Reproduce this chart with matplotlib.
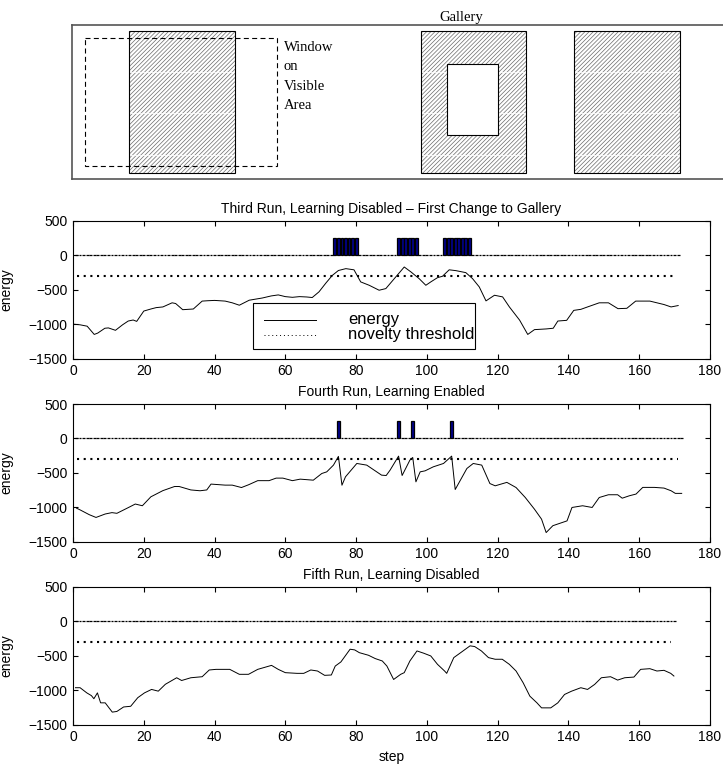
import numpy as np
import matplotlib
matplotlib.use('Agg')
import matplotlib.pyplot as plt
from matplotlib.patches import Rectangle

plt.rcParams['font.family'] = ['Liberation Sans', 'DejaVu Sans']
plt.rcParams['hatch.linewidth'] = 0.5

# --- gallery sketch (units: pixels inside the gallery frame) ---
GAL_W, GAL_H = 778, 154.5
panels = [(57, 6.5, 163, 148.2), (348.7, 6.5, 454, 148.2), (502, 6.5, 608, 148.2)]
opening = (374.7, 39.8, 426, 110.8)
window = (13, 13.2, 205, 141.2)
window_words = ['Window', 'on', 'Visible', 'Area']
window_text_x = 212
window_text_y = [26, 45.5, 65, 84.5]
band_y = [47.2, 88.8, 130.5]   # faint light bands across the hatched walls

# --- runs ---
threshold = -300
titles = ['Third Run, Learning Disabled \u2013 First Change to Gallery',
          'Fourth Run, Learning Enabled',
          'Fifth Run, Learning Disabled']
n_steps = [171, 172, 170]
alarms = [
    [74, 75, 76, 77, 78, 79, 80, 92, 93, 94, 95, 96, 97,
     105, 106, 107, 108, 109, 110, 111, 112],
    [75, 92, 96, 107],
    [],
]

x3 = [0, 2, 4, 6, 7, 9, 10, 12, 14, 15.6, 17, 18, 20, 22, 23.5, 25.4, 28, 29, 31, 34,
      36.5, 38, 40, 43, 45, 47, 49.8, 53.5, 56, 58, 60, 62, 64, 66, 67.6, 69.5, 71.5,
      73.3, 75, 77.1, 79.4, 81.3, 83.7, 86.5, 88.4, 90.8, 93.6, 95.5, 97.8, 99.7,
      101.1, 103, 104.4, 106.3, 108.2, 111, 112.9, 114.8, 116.7, 119.1, 121.4, 123.3,
      126.2, 128.5, 130.4, 133.7, 135.7, 137, 139.5, 141.5, 143.5, 145.4, 148.7,
      151.3, 154, 156.5, 159, 163, 167, 169, 171]
e3 = [-1000, -1010, -1030, -1150, -1130, -1060, -1055, -1090, -1010, -955, -940, -960,
      -810, -780, -760, -750, -690, -700, -790, -780, -665, -660, -655, -665, -690,
      -725, -652, -620, -590, -575, -600, -610, -600, -605, -613, -531, -400, -290,
      -220, -193, -210, -386, -435, -507, -483, -338, -169, -241, -338, -435, -386,
      -324, -304, -210, -222, -251, -338, -459, -662, -580, -604, -749, -942, -1150,
      -1080, -1070, -1060, -955, -945, -800, -785, -750, -690, -690, -775, -770, -665,
      -665, -715, -750, -730]

x4 = [1, 2, 4.6, 6.5, 9.1, 11, 12.4, 15.7, 17.6, 19.6, 22, 25.4, 28.7, 30, 33.3, 35.9,
      37.8, 39, 43, 45, 47.6, 49.6, 52.2, 55.4, 57.4, 59.3, 62, 64.2, 67.9, 70.3, 71.7,
      73.6, 75, 76, 77, 80.2, 83, 87.2, 88.5, 89.6, 92, 93, 95.2, 96, 96.9, 98.1, 99.5,
      101.8, 104.7, 107, 108, 111.3, 113.1, 115.5, 117.8, 119.3, 122.6, 125.2, 127.8,
      130.4, 132.4, 133.7, 135.6, 139.6, 141, 144, 146.7, 148.7, 151.3, 153.9, 155.2,
      157.2, 159.1, 161, 164.3, 167, 169, 170.2, 172]
e4 = [-1015, -1040, -1110, -1150, -1100, -1080, -1090, -1005, -955, -980, -850, -760,
      -700, -700, -750, -762, -750, -665, -680, -680, -715, -675, -615, -615, -578,
      -578, -615, -593, -608, -511, -487, -389, -262, -681, -559, -365, -389, -535,
      -540, -462, -258, -540, -316, -278, -632, -487, -472, -414, -365, -258, -744,
      -438, -365, -389, -657, -690, -640, -715, -860, -1030, -1175, -1370, -1270,
      -1200, -1005, -980, -1005, -860, -820, -820, -870, -835, -810, -713, -713, -723,
      -762, -800, -800]

x5 = [0.7, 2, 3.9, 5.2, 5.9, 6.9, 7.8, 9.1, 11.1, 12.4, 14.3, 16.3, 18.3, 20.2, 22.2,
      24.1, 26.1, 29.3, 30.7, 33.3, 36.5, 38.5, 40.4, 44.3, 47, 49.6, 52.2, 56.1, 58,
      60, 63.3, 65.2, 67.2, 69.1, 71.1, 73, 74.1, 75.7, 78.3, 79.6, 80.9, 83.5, 85.4,
      87.4, 88.7, 90.6, 92.6, 93.6, 95.2, 97.2, 99.1, 101.1, 103, 105, 105.6, 107.6,
      109.6, 112.2, 113.5, 115.4, 117.4, 119.3, 121.3, 123.3, 125.2, 127.2, 129.1,
      131.1, 132.4, 133.7, 135, 137, 138.9, 140.9, 143.5, 145.4, 147.4, 149.3, 151.9,
      153.9, 155.9, 158.5, 160.4, 163, 165, 167, 168.9, 169.8]
e5 = [-965, -965, -1040, -1080, -1125, -1040, -1185, -1185, -1320, -1310, -1245, -1235,
      -1110, -1040, -990, -1015, -915, -820, -860, -820, -805, -707, -698, -698, -770,
      -770, -698, -640, -698, -746, -756, -756, -707, -722, -785, -780, -650, -590,
      -405, -415, -455, -493, -541, -576, -650, -845, -770, -746, -576, -430, -463,
      -503, -625, -722, -756, -527, -453, -356, -366, -430, -527, -551, -551, -625,
      -722, -893, -1088, -1185, -1258, -1258, -1258, -1185, -1063, -1015, -965, -990,
      -917, -820, -805, -854, -820, -810, -698, -688, -722, -712, -756, -795]

energy_x = [x3, x4, x5]
energy_y = [e3, e4, e5]
alarm_height = 250

fig = plt.figure(figsize=(7.23, 7.65), dpi=100)

# gallery sketch
gal = fig.add_axes([72 / 723, 1 - 179 / 765, GAL_W / 723, GAL_H / 765])
gal.set_xlim(0, GAL_W)
gal.set_ylim(GAL_H, 0)
gal.set_xticks([])
gal.set_yticks([])
for sp in gal.spines.values():
    sp.set_color('#555555')
    sp.set_linewidth(1.2)
gal.set_title('Gallery', family=['Liberation Serif', 'DejaVu Serif'], fontsize=10.5, pad=2.5)

for (a, b, c, d) in panels:
    gal.add_patch(Rectangle((a, b), c - a, d - b, fc='white', ec='#6a6a6a', lw=0,
                            hatch='////////', zorder=1))
    for yb in band_y:
        gal.plot([a, c], [yb, yb], color='white', lw=0.8, alpha=0.8, zorder=1.5)
    gal.add_patch(Rectangle((a, b), c - a, d - b, fc='none', ec='black', lw=0.8, zorder=2))
a, b, c, d = opening
gal.add_patch(Rectangle((a, b), c - a, d - b, fc='white', ec='black', lw=0.8, zorder=3))
a, b, c, d = window
gal.add_patch(Rectangle((a, b), c - a, d - b, fc='none', ec='black', lw=0.8,
                        ls=(0, (4.5, 3)), zorder=4))
for w, yy in zip(window_words, window_text_y):
    gal.text(window_text_x, yy, w, family=['Liberation Serif', 'DejaVu Serif'],
             fontsize=10.5, va='baseline', ha='left')

# energy plots
tops = [221, 404, 587]
for i in range(3):
    top = tops[i]
    ax = fig.add_axes([73 / 723, 1 - (top + 137.5) / 765, 637 / 723, 137.5 / 765])
    steps = np.arange(1, n_steps[i] + 1)
    novelty = np.where(np.isin(steps, alarms[i]), alarm_height, 0)
    ax.bar(steps, novelty, width=0.8, color='#00008c', edgecolor='black',
           linewidth=0.9, zorder=2)
    ax.plot([1, n_steps[i] - 1], [threshold, threshold], color='black', lw=1.5,
            ls=(0, (1, 2.2)), zorder=3)
    ax.plot(energy_x[i], energy_y[i], color='black', lw=0.7, zorder=4)
    ax.set_xlim(0, 180)
    ax.set_ylim(-1500, 500)
    ax.set_xticks(np.arange(0, 181, 20))
    ax.set_yticks(np.arange(-1500, 501, 500))
    ax.tick_params(direction='in', top=True, right=True, length=3.5, width=0.8,
                   labelsize=10, pad=4)
    ax.set_title(titles[i], fontsize=10, pad=6)
    ax.set_ylabel('energy', fontsize=10)
    ax.yaxis.set_label_coords(-0.093, 0.5)
    if i == 0:
        ax.add_patch(Rectangle((0.2818, 0.0725), 0.350, 0.331, transform=ax.transAxes,
                               fc='white', ec='black', lw=0.8, zorder=5))
        ax.plot([0.300, 0.381], [0.283, 0.283], transform=ax.transAxes,
                color='black', lw=0.7, zorder=6)
        ax.plot([0.300, 0.381], [0.174, 0.174], transform=ax.transAxes,
                color='black', lw=0.7, ls=(0, (1, 3)), zorder=6)
        ax.text(0.4317, 0.283, 'energy', transform=ax.transAxes, fontsize=12,
                va='center', zorder=6)
        ax.text(0.4317, 0.174, 'novelty threshold', transform=ax.transAxes,
                fontsize=12, va='center', zorder=6)
    if i == 2:
        ax.set_xlabel('step', fontsize=10)

fig.savefig('out.png', dpi=100)
